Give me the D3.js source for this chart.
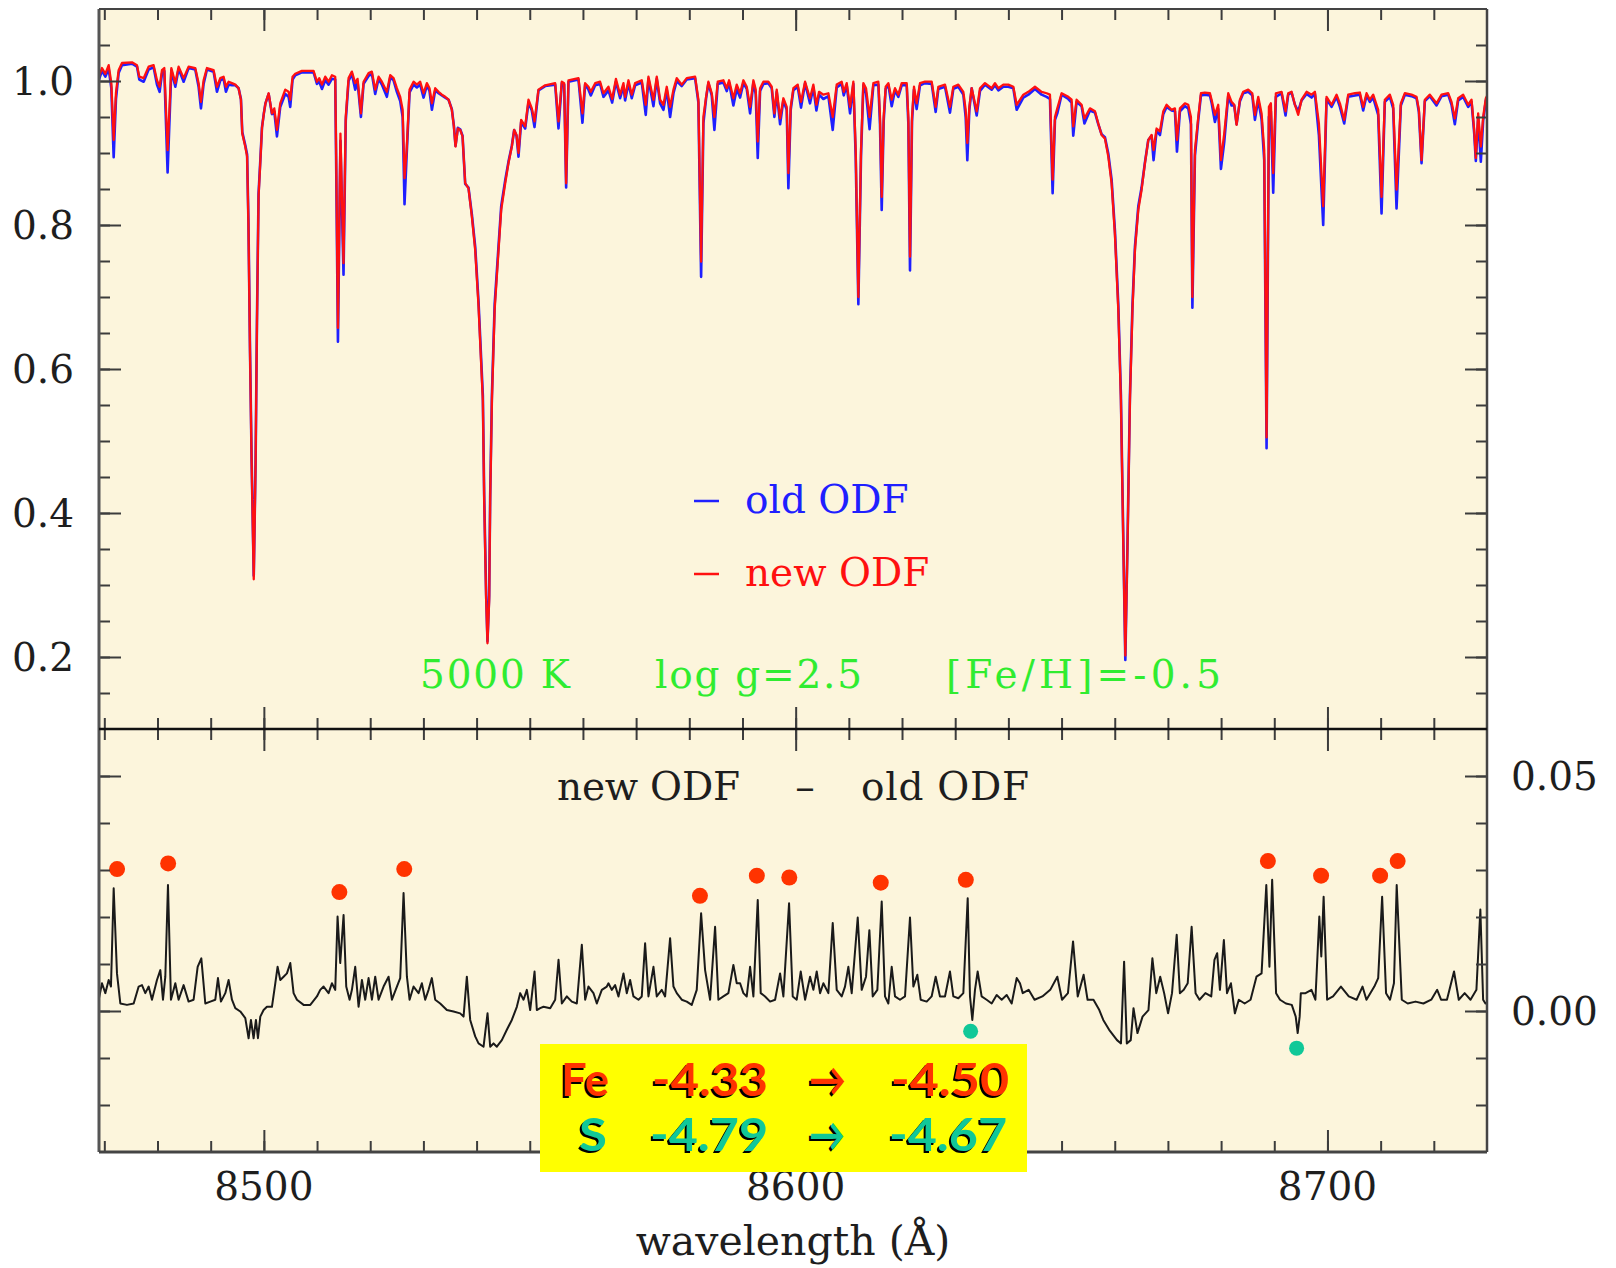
<!DOCTYPE html>
<html>
<head>
<meta charset="utf-8">
<script src="https://cdn.jsdelivr.net/npm/d3@7"></script>
<style>
  html, body { margin: 0; padding: 0; background: #ffffff; }
  svg { display: block; }
</style>
</head>
<body>
<svg id="chart" width="1616" height="1268"></svg>
<script>
// Synthetic spectrum, 5000 K / log g = 2.5 / [Fe/H] = -0.5, Ca II triplet region.
// Rows: [wavelength (Å), normalised flux with new ODF, normalised flux with old ODF]
const spectrum = [
  [8468.90,1.004,1.000],[8469.56,1.018,1.014],[8470.19,1.010,1.006],[8470.82,1.022,1.017],[8471.32,0.997,0.990],
  [8471.76,0.918,0.894],[8472.19,0.983,0.975],[8472.69,1.015,1.011],[8473.32,1.025,1.022],[8475.20,1.026,1.024],
  [8476.14,1.022,1.020],[8476.58,1.006,1.002],[8477.40,1.004,0.999],[8478.33,1.020,1.016],[8479.27,1.022,1.019],
  [8479.90,1.001,0.995],[8480.40,0.992,0.985],[8480.84,1.015,1.010],[8481.28,1.018,1.014],[8481.90,0.904,0.873],
  [8482.60,1.018,1.015],[8483.35,0.997,0.992],[8483.97,1.020,1.017],[8484.91,1.004,0.999],[8485.85,1.020,1.018],
  [8487.10,1.018,1.016],[8487.73,0.997,0.992],[8488.17,0.971,0.962],[8488.67,1.001,0.996],[8489.30,1.018,1.016],
  [8490.55,1.015,1.013],[8491.18,0.992,0.985],[8491.81,1.004,1.001],[8492.43,1.006,1.003],[8492.87,0.992,0.985],
  [8493.37,0.999,0.995],[8494.00,0.997,0.994],[8494.63,0.995,0.994],[8495.25,0.990,0.990],[8495.69,0.974,0.975],
  [8495.94,0.927,0.929],[8496.50,0.909,0.911],[8496.85,0.895,0.898],[8497.10,0.800,0.805],[8497.40,0.620,0.625],
  [8497.70,0.470,0.474],[8498.10,0.308,0.313],[8498.45,0.470,0.475],[8498.70,0.660,0.665],[8499.00,0.840,0.843],
  [8499.35,0.890,0.892],[8499.65,0.935,0.936],[8500.00,0.955,0.955],[8500.30,0.969,0.969],[8500.90,0.983,0.982],
  [8501.52,0.955,0.954],[8501.96,0.962,0.958],[8502.46,0.932,0.923],[8503.08,0.969,0.964],[8504.02,0.988,0.982],
  [8504.65,0.985,0.978],[8504.96,0.974,0.964],[8505.40,1.006,1.002],[8505.90,1.010,1.008],[8507.16,1.014,1.012],
  [8509.35,1.014,1.012],[8509.98,0.999,0.996],[8510.42,1.004,0.999],[8510.92,0.995,0.989],[8511.54,1.006,1.001],
  [8512.17,0.999,0.995],[8512.80,1.008,1.003],[8513.42,1.006,1.002],[8513.62,0.880,0.870],[8513.93,0.657,0.638],
  [8514.40,0.927,0.917],[8514.98,0.747,0.731],[8515.40,0.950,0.945],[8515.93,1.004,1.000],[8516.55,1.013,1.010],
  [8517.18,0.997,0.988],[8517.62,1.003,0.999],[8518.25,0.955,0.950],[8518.75,0.999,0.996],[8519.69,1.011,1.007],
  [8520.31,1.013,1.010],[8520.94,0.988,0.982],[8521.57,1.006,1.003],[8522.19,0.999,0.995],[8523.13,0.985,0.978],
  [8523.76,1.008,1.005],[8524.39,1.004,1.001],[8525.01,0.990,0.985],[8525.64,0.978,0.972],[8526.10,0.960,0.950],
  [8526.45,0.865,0.829],[8526.85,0.904,0.897],[8527.40,0.988,0.984],[8528.15,0.999,0.995],[8528.77,0.995,0.991],
  [8529.40,0.999,0.995],[8530.03,0.983,0.977],[8530.65,0.997,0.994],[8531.15,0.990,0.986],[8531.60,0.969,0.960],
  [8532.22,0.990,0.987],[8532.85,0.985,0.983],[8533.47,0.981,0.980],[8534.10,0.978,0.977],[8534.73,0.974,0.974],
  [8535.35,0.960,0.961],[8535.73,0.937,0.938],[8536.04,0.909,0.910],[8536.48,0.934,0.935],[8536.92,0.932,0.933],
  [8537.36,0.923,0.924],[8537.86,0.858,0.857],[8538.48,0.851,0.852],[8539.11,0.812,0.815],[8539.74,0.765,0.770],
  [8540.37,0.687,0.693],[8541.18,0.556,0.563],[8541.43,0.418,0.425],[8541.80,0.279,0.286],[8542.05,0.219,0.222],
  [8542.37,0.279,0.286],[8542.56,0.418,0.425],[8542.88,0.556,0.563],[8543.40,0.683,0.690],[8544.13,0.765,0.771],
  [8544.63,0.821,0.826],[8545.38,0.858,0.862],[8546.00,0.886,0.888],[8546.63,0.909,0.910],[8547.07,0.932,0.932],
  [8547.51,0.925,0.924],[8547.88,0.900,0.895],[8548.38,0.946,0.943],[8549.14,0.937,0.934],[8549.76,0.974,0.970],
  [8550.39,0.962,0.959],[8550.89,0.944,0.936],[8551.64,0.988,0.987],[8552.90,0.994,0.993],[8554.78,0.997,0.995],
  [8555.40,0.944,0.934],[8556.03,0.999,0.997],[8556.47,0.997,0.995],[8556.84,0.858,0.852],[8557.28,1.001,0.999],
  [8559.16,1.004,1.002],[8559.91,0.955,0.942],[8560.41,0.997,0.995],[8561.04,0.992,0.988],[8561.48,0.985,0.980],
  [8562.30,0.997,0.994],[8563.23,0.999,0.996],[8563.86,0.983,0.978],[8564.80,0.992,0.987],[8565.50,0.975,0.970],
  [8566.20,1.003,0.999],[8566.99,0.981,0.976],[8567.62,0.997,0.993],[8567.93,0.978,0.973],[8568.56,1.001,0.997],
  [8569.18,0.981,0.976],[8569.81,0.997,0.994],[8571.06,1.001,0.998],[8571.81,0.967,0.953],[8572.32,1.006,1.003],
  [8573.26,0.974,0.965],[8573.88,1.006,1.003],[8574.51,0.974,0.969],[8575.14,0.967,0.960],[8575.76,0.992,0.988],
  [8576.39,0.964,0.950],[8577.02,0.988,0.983],[8577.64,1.004,1.000],[8578.58,0.995,0.993],[8579.52,1.004,1.002],
  [8581.09,1.006,1.004],[8581.71,0.974,0.970],[8582.22,0.749,0.728],[8582.65,0.950,0.941],[8583.16,0.978,0.976],
  [8583.59,0.999,0.997],[8584.22,0.983,0.980],[8584.72,0.950,0.932],[8585.35,0.999,0.996],[8586.41,1.001,0.998],
  [8587.04,0.990,0.986],[8587.48,1.001,0.998],[8588.29,0.976,0.966],[8588.92,0.995,0.989],[8589.55,0.983,0.977],
  [8590.17,1.001,0.997],[8590.80,0.992,0.989],[8591.43,0.964,0.955],[8592.05,1.001,0.998],[8592.49,0.988,0.982],
  [8592.87,0.916,0.893],[8593.31,0.990,0.986],[8593.93,0.999,0.996],[8594.87,0.999,0.997],[8595.50,0.992,0.990],
  [8596.00,0.955,0.950],[8596.44,0.988,0.985],[8597.07,0.948,0.940],[8597.69,0.976,0.973],[8598.32,0.964,0.960],
  [8598.63,0.872,0.851],[8599.07,0.964,0.960],[8599.57,0.990,0.987],[8600.39,0.995,0.992],[8601.01,0.971,0.963],
  [8601.77,0.999,0.997],[8602.70,0.976,0.969],[8603.33,0.995,0.991],[8603.90,0.967,0.959],[8604.40,0.985,0.981],
  [8605.21,0.981,0.975],[8606.15,0.983,0.979],[8606.97,0.950,0.932],[8607.72,0.995,0.991],[8608.66,0.999,0.996],
  [8609.04,0.985,0.980],[8609.60,0.997,0.994],[8610.23,0.964,0.955],[8610.85,0.999,0.996],[8611.29,0.904,0.895],
  [8611.79,0.700,0.690],[8612.29,0.904,0.896],[8612.73,0.997,0.994],[8613.23,0.990,0.983],[8613.90,0.950,0.933],
  [8614.61,0.997,0.994],[8615.55,0.999,0.995],[8615.86,0.950,0.940],[8616.18,0.839,0.821],[8616.55,0.950,0.944],
  [8616.93,0.992,0.989],[8617.43,0.997,0.995],[8618.06,0.974,0.965],[8618.68,0.990,0.987],[8619.31,0.981,0.978],
  [8619.94,0.997,0.994],[8620.88,0.997,0.994],[8621.19,0.950,0.941],[8621.50,0.756,0.737],[8621.88,0.950,0.944],
  [8622.25,0.992,0.988],[8622.75,0.969,0.961],[8623.38,0.997,0.994],[8624.32,0.999,0.997],[8625.58,0.999,0.996],
  [8626.33,0.964,0.957],[8626.83,0.992,0.989],[8628.08,0.995,0.992],[8629.02,0.964,0.956],[8629.65,0.992,0.989],
  [8630.59,0.995,0.992],[8631.53,0.985,0.981],[8631.97,0.960,0.950],[8632.28,0.914,0.890],[8632.66,0.964,0.960],
  [8633.10,0.990,0.990],[8634.04,0.958,0.952],[8634.66,0.990,0.986],[8635.60,0.997,0.995],[8636.86,0.990,0.988],
  [8637.48,0.997,0.994],[8638.11,0.990,0.987],[8639.05,0.995,0.992],[8639.99,0.995,0.992],[8640.93,0.992,0.990],
  [8641.56,0.967,0.960],[8642.81,0.981,0.977],[8643.75,0.985,0.981],[8645.00,0.992,0.989],[8646.25,0.985,0.981],
  [8647.19,0.983,0.978],[8647.82,0.981,0.975],[8648.32,0.863,0.844],[8648.76,0.950,0.946],[8649.20,0.962,0.955],
  [8650.01,0.983,0.981],[8651.27,0.978,0.975],[8651.89,0.974,0.970],[8652.20,0.937,0.924],[8652.83,0.974,0.971],
  [8653.77,0.967,0.965],[8654.30,0.948,0.941],[8655.34,0.962,0.959],[8656.28,0.958,0.956],[8656.90,0.941,0.940],
  [8657.53,0.925,0.926],[8658.16,0.920,0.922],[8658.79,0.895,0.899],[8659.41,0.858,0.863],[8660.04,0.786,0.792],
  [8660.67,0.682,0.689],[8661.16,0.557,0.564],[8661.63,0.349,0.354],[8661.99,0.202,0.196],[8662.39,0.349,0.355],
  [8662.86,0.557,0.564],[8663.33,0.682,0.688],[8663.80,0.765,0.770],[8664.43,0.821,0.826],[8665.05,0.849,0.852],
  [8665.68,0.886,0.887],[8666.31,0.918,0.918],[8666.93,0.925,0.924],[8667.30,0.904,0.890],[8667.87,0.934,0.931],
  [8668.50,0.930,0.925],[8669.13,0.958,0.954],[8669.75,0.967,0.964],[8670.69,0.960,0.959],[8671.32,0.962,0.958],
  [8671.70,0.918,0.902],[8672.26,0.962,0.958],[8673.20,0.969,0.965],[8673.82,0.967,0.962],[8674.33,0.950,0.940],
  [8674.60,0.700,0.685],[8675.08,0.904,0.896],[8675.71,0.950,0.946],[8676.21,0.983,0.980],[8676.96,0.984,0.981],
  [8677.90,0.983,0.980],[8678.21,0.974,0.970],[8678.84,0.953,0.943],[8679.46,0.967,0.961],[8679.97,0.890,0.878],
  [8680.59,0.927,0.915],[8681.34,0.983,0.979],[8681.97,0.971,0.966],[8682.47,0.967,0.966],[8682.91,0.939,0.940],
  [8683.54,0.974,0.972],[8684.16,0.985,0.983],[8685.10,0.988,0.985],[8685.86,0.983,0.980],[8686.36,0.953,0.946],
  [8686.98,0.978,0.974],[8687.61,0.955,0.947],[8688.11,0.904,0.890],[8688.55,0.505,0.490],[8688.99,0.964,0.950],
  [8689.36,0.969,0.958],[8689.80,0.872,0.845],[8690.30,0.983,0.978],[8691.37,0.985,0.983],[8692.12,0.958,0.952],
  [8692.62,0.983,0.981],[8693.25,0.985,0.984],[8693.88,0.967,0.967],[8694.50,0.953,0.958],[8695.13,0.974,0.973],
  [8696.07,0.985,0.982],[8697.01,0.981,0.977],[8697.64,0.985,0.982],[8698.39,0.941,0.925],[8699.20,0.826,0.800],
  [8699.83,0.978,0.975],[8700.77,0.967,0.964],[8701.71,0.981,0.978],[8702.34,0.969,0.964],[8703.15,0.946,0.941],
  [8703.90,0.981,0.978],[8705.16,0.983,0.980],[8706.09,0.984,0.981],[8706.72,0.964,0.959],[8707.35,0.983,0.980],
  [8707.97,0.974,0.971],[8708.60,0.981,0.977],[8709.54,0.960,0.953],[8710.17,0.839,0.816],[8710.79,0.974,0.971],
  [8711.73,0.981,0.978],[8712.36,0.967,0.962],[8712.99,0.849,0.823],[8713.80,0.969,0.966],[8714.55,0.983,0.981],
  [8715.81,0.981,0.979],[8716.75,0.978,0.976],[8717.19,0.960,0.957],[8717.69,0.890,0.886],[8718.31,0.974,0.972],
  [8719.25,0.981,0.979],[8720.51,0.969,0.966],[8721.45,0.981,0.979],[8722.70,0.983,0.981],[8723.33,0.971,0.967],
  [8723.95,0.948,0.940],[8724.58,0.976,0.973],[8725.52,0.981,0.978],[8726.46,0.967,0.964],[8727.09,0.974,0.971],
  [8727.59,0.932,0.928],[8727.90,0.893,0.889],[8728.34,0.955,0.950],[8728.84,0.909,0.888],[8729.28,0.950,0.945],
  [8729.78,0.976,0.973],[8730.20,0.982,0.979]
];

// Rows: [wavelength (Å), flux(new ODF) - flux(old ODF)]
const difference = [
  [8468.94,0.0024],[8469.56,0.0059],[8470.19,0.0038],[8470.82,0.0066],[8471.25,0.0052],[8471.76,0.0261],[8472.38,0.0080],
  [8473.01,0.0016],[8474.26,0.0013],[8475.52,0.0016],[8476.46,0.0052],[8477.08,0.0055],[8477.71,0.0038],[8478.34,0.0052],
  [8478.96,0.0024],[8479.90,0.0066],[8480.53,0.0087],[8481.03,0.0024],[8481.47,0.0073],[8481.97,0.0268],[8482.53,0.0024],
  [8483.35,0.0059],[8483.97,0.0024],[8484.91,0.0055],[8485.85,0.0020],[8486.79,0.0024],[8487.55,0.0094],[8488.24,0.0112],
  [8488.99,0.0016],[8489.93,0.0020],[8490.87,0.0024],[8491.37,0.0070],[8491.93,0.0020],[8492.75,0.0038],[8493.37,0.0066],
  [8494.00,0.0024],[8494.63,0.0006],[8495.57,-0.0001],[8496.51,-0.0015],[8497.13,-0.0058],[8497.57,-0.0019],[8498.07,-0.0058],
  [8498.51,-0.0019],[8498.89,-0.0058],[8499.33,-0.0012],[8499.95,0.0002],[8500.58,0.0009],[8501.52,0.0009],[8502.15,0.0059],
  [8502.58,0.0094],[8503.09,0.0066],[8503.71,0.0073],[8504.34,0.0080],[8504.97,0.0102],[8505.59,0.0038],[8506.22,0.0024],
  [8507.47,0.0013],[8508.73,0.0013],[8509.98,0.0031],[8510.60,0.0045],[8511.23,0.0052],[8512.17,0.0038],[8512.80,0.0059],
  [8513.42,0.0045],[8513.86,0.0201],[8514.36,0.0102],[8514.99,0.0204],[8515.49,0.0052],[8516.12,0.0024],[8516.56,0.0045],
  [8517.18,0.0094],[8517.81,0.0009],[8518.44,0.0066],[8519.06,0.0024],[8519.69,0.0070],[8520.32,0.0024],[8520.94,0.0073],
  [8521.57,0.0024],[8522.51,0.0052],[8523.45,0.0073],[8524.08,0.0024],[8525.02,0.0052],[8525.64,0.0070],[8526.27,0.0251],
  [8526.90,0.0073],[8527.40,0.0024],[8528.15,0.0052],[8529.09,0.0038],[8529.71,0.0059],[8530.34,0.0024],[8530.97,0.0045],
  [8531.59,0.0070],[8532.22,0.0024],[8533.16,0.0016],[8534.41,0.0002],[8535.67,-0.0001],[8536.92,-0.0005],[8537.55,-0.0012],
  [8538.17,0.0073],[8538.80,-0.0019],[8539.74,-0.0054],[8540.37,-0.0069],[8541.31,-0.0076],[8542.06,-0.0005],[8542.56,-0.0076],
  [8543.19,-0.0069],[8543.81,-0.0076],[8544.75,-0.0062],[8545.69,-0.0040],[8546.63,-0.0019],[8547.57,0.0009],[8548.20,0.0038],
  [8548.83,0.0024],[8549.45,0.0045],[8550.08,0.0002],[8550.90,0.0084],[8551.33,0.0002],[8551.96,0.0006],[8552.59,0.0009],
  [8553.84,0.0006],[8554.78,0.0024],[8555.41,0.0109],[8556.03,0.0016],[8556.97,0.0031],[8557.91,0.0020],[8558.85,0.0016],
  [8559.79,0.0141],[8560.42,0.0024],[8561.04,0.0052],[8561.98,0.0038],[8562.61,0.0016],[8563.55,0.0045],[8564.49,0.0052],
  [8564.80,0.0059],[8565.42,0.0045],[8566.05,0.0055],[8566.68,0.0031],[8567.62,0.0080],[8568.24,0.0038],[8568.87,0.0066],
  [8569.50,0.0031],[8570.44,0.0024],[8571.06,0.0031],[8571.69,0.0144],[8572.32,0.0031],[8573.26,0.0094],[8573.88,0.0031],
  [8574.82,0.0045],[8575.45,0.0031],[8576.39,0.0155],[8577.02,0.0052],[8577.64,0.0038],[8578.58,0.0024],[8579.52,0.0020],
  [8580.46,0.0013],[8581.40,0.0045],[8582.22,0.0208],[8582.97,0.0087],[8583.91,0.0024],[8584.85,0.0179],[8585.47,0.0024],
  [8586.41,0.0031],[8587.35,0.0038],[8588.29,0.0098],[8588.92,0.0059],[8589.55,0.0059],[8590.17,0.0038],[8590.80,0.0031],
  [8591.43,0.0094],[8592.05,0.0031],[8592.87,0.0236],[8593.43,0.0038],[8594.25,0.0031],[8595.19,0.0020],[8596.13,0.0024],
  [8597.07,0.0080],[8597.69,0.0031],[8598.76,0.0229],[8599.45,0.0031],[8600.20,0.0024],[8600.95,0.0084],[8601.77,0.0024],
  [8602.71,0.0073],[8603.33,0.0045],[8603.96,0.0084],[8604.59,0.0038],[8605.21,0.0059],[8606.15,0.0038],[8606.97,0.0187],
  [8607.72,0.0045],[8608.66,0.0031],[8609.28,0.0052],[8609.91,0.0094],[8610.54,0.0038],[8611.67,0.0199],[8612.42,0.0045],
  [8613.23,0.0073],[8613.86,0.0172],[8614.49,0.0031],[8615.36,0.0045],[8616.18,0.0233],[8616.80,0.0031],[8617.43,0.0016],
  [8618.06,0.0094],[8618.68,0.0031],[8619.62,0.0024],[8620.56,0.0031],[8621.50,0.0199],[8622.13,0.0052],[8622.88,0.0077],
  [8623.51,0.0024],[8624.64,0.0020],[8625.57,0.0031],[8626.33,0.0073],[8627.14,0.0031],[8628.08,0.0031],[8629.02,0.0084],
  [8629.65,0.0031],[8630.59,0.0027],[8631.53,0.0038],[8632.35,0.0240],[8632.78,0.0031],[8633.22,-0.0019],[8633.72,0.0045],
  [8634.22,0.0084],[8634.97,0.0031],[8635.91,0.0024],[8636.86,0.0016],[8637.80,0.0034],[8638.74,0.0024],[8639.68,0.0034],
  [8640.62,0.0016],[8641.56,0.0070],[8642.18,0.0059],[8642.70,0.0038],[8643.81,0.0045],[8644.92,0.0024],[8646.39,0.0031],
  [8647.87,0.0045],[8649.20,0.0073],[8650.09,0.0024],[8651.20,0.0038],[8652.16,0.0148],[8653.04,0.0031],[8654.15,0.0077],
  [8654.89,0.0024],[8656.00,0.0024],[8657.10,0.0002],[8657.84,-0.0019],[8658.95,-0.0040],[8660.43,-0.0062],[8661.17,-0.0069],
  [8661.76,0.0105],[8662.27,-0.0069],[8663.01,-0.0062],[8663.53,0.0006],[8664.27,-0.0047],[8665.23,-0.0012],[8666.34,0.0002],
  [8667.08,0.0112],[8667.81,0.0038],[8668.55,0.0073],[8669.29,0.0038],[8670.03,-0.0005],[8670.77,0.0038],[8671.65,0.0162],
  [8672.25,0.0038],[8672.98,0.0045],[8673.72,0.0059],[8674.46,0.0179],[8675.20,0.0038],[8675.94,0.0024],[8677.05,0.0038],
  [8678.15,0.0031],[8678.75,0.0109],[8679.26,0.0123],[8679.78,0.0045],[8680.52,0.0151],[8681.11,0.0038],[8681.85,0.0059],
  [8682.59,-0.0005],[8683.33,0.0024],[8684.43,0.0016],[8685.54,0.0024],[8686.65,0.0073],[8687.61,0.0080],[8688.50,0.0268],
  [8689.09,0.0094],[8689.60,0.0279],[8690.34,0.0038],[8691.08,0.0024],[8692.19,0.0016],[8693.29,0.0013],[8694.03,-0.0012],
  [8694.40,-0.0047],[8694.77,-0.0012],[8694.99,0.0038],[8695.88,0.0038],[8696.99,0.0045],[8697.73,0.0024],[8698.47,0.0201],
  [8698.84,0.0116],[8699.28,0.0243],[8699.94,0.0024],[8701.05,0.0031],[8702.53,0.0052],[8704.01,0.0031],[8705.48,0.0024],
  [8706.59,0.0052],[8707.33,0.0024],[8708.81,0.0052],[8709.54,0.0070],[8710.28,0.0243],[8711.02,0.0038],[8711.76,0.0024],
  [8712.50,0.0059],[8713.02,0.0268],[8713.98,0.0024],[8715.09,0.0016],[8716.56,0.0020],[8718.04,0.0016],[8719.52,0.0024],
  [8720.63,0.0045],[8721.36,0.0024],[8722.47,0.0024],[8723.80,0.0084],[8724.69,0.0024],[8725.80,0.0038],[8726.90,0.0024],
  [8728.01,0.0045],[8728.75,0.0216],[8729.27,0.0024],[8729.71,0.0016],[8730.20,0.0020]
];

// Lines that respond to the Fe abundance change (marked above the residual peaks)
const feMarkers = [
  [8472.4,0.0302],[8482.0,0.0314],[8514.2,0.0253],[8526.4,0.0302],[8582.0,0.0245],[8592.7,0.0288],[8598.8,0.0284],
  [8616.0,0.0273],[8632.0,0.0279],[8688.8,0.0319],[8698.8,0.0288],[8709.9,0.0288],[8713.2,0.0319]
];
// Lines that respond to the S abundance change (marked below the residual dips)
const sMarkers = [[8632.9,-0.0043],[8694.2,-0.0079]];

// Abundance changes between the two opacity distributions
const abundanceChanges = [
  { element: "Fe", before: -4.33, after: -4.50 },
  { element: "S",  before: -4.79, after: -4.67 }
];

// Model parameters
const teff = 5000, logg = 2.5, feh = -0.5;

// Axis domains and labelled ticks
const waveDomain = [8469, 8730];
const fluxDomain = [0.1, 1.1];
const diffDomain = [-0.03, 0.06];
const waveLabels = [8500, 8600, 8700];
const fluxLabels = [0.2, 0.4, 0.6, 0.8, 1.0];
const diffLabels = [0.00, 0.05];

// ---------------------------------------------------------------------------
const svg = d3.select("#chart");
const edgeL = 99, edgeR = 1487, edgeT = 9, edgeM = 729, edgeB = 1152;

const x = d3.scaleLinear().domain(waveDomain).range([edgeL, edgeR]);
const yTop = d3.scaleLinear().domain(fluxDomain).range([edgeM, edgeT]);
const yBot = d3.scaleLinear().domain(diffDomain).range([edgeB, edgeM]);

const paper = "#fcf5dc";
const axisColor = "#3c3c3c";
const serif = "'DejaVu Serif', 'Liberation Serif', serif";
const feColor = "#ff3300", sColor = "#10c898";

svg.append("rect").attr("x", edgeL).attr("y", edgeT)
  .attr("width", edgeR - edgeL).attr("height", edgeB - edgeT).attr("fill", paper);

const defs = svg.append("defs");
defs.append("clipPath").attr("id", "clip-top").append("rect")
  .attr("x", edgeL).attr("y", edgeT).attr("width", edgeR - edgeL).attr("height", edgeM - edgeT);
defs.append("clipPath").attr("id", "clip-bot").append("rect")
  .attr("x", edgeL).attr("y", edgeM).attr("width", edgeR - edgeL).attr("height", edgeB - edgeM);

// Upper panel: both spectra, old ODF underneath
const gTop = svg.append("g").attr("clip-path", "url(#clip-top)");
const oldLine = d3.line().x(d => x(d[0])).y(d => yTop(d[2]));
const newLine = d3.line().x(d => x(d[0])).y(d => yTop(d[1]));
gTop.append("path").datum(spectrum).attr("d", oldLine)
  .attr("fill", "none").attr("stroke", "#1f1fff").attr("stroke-width", 2.6).attr("stroke-linejoin", "round");
gTop.append("path").datum(spectrum).attr("d", newLine)
  .attr("fill", "none").attr("stroke", "#ff1010").attr("stroke-width", 2.3).attr("stroke-linejoin", "round");

// Lower panel: residual
const gBot = svg.append("g").attr("clip-path", "url(#clip-bot)");
const diffLine = d3.line().x(d => x(d[0])).y(d => yBot(d[1]));
gBot.append("path").datum(difference).attr("d", diffLine)
  .attr("fill", "none").attr("stroke", "#1a1a1a").attr("stroke-width", 2).attr("stroke-linejoin", "round");

gBot.selectAll("circle.fe").data(feMarkers).join("circle").attr("class", "fe")
  .attr("cx", d => x(d[0])).attr("cy", d => yBot(d[1])).attr("r", 8).attr("fill", feColor);
gBot.selectAll("circle.s").data(sMarkers).join("circle").attr("class", "s")
  .attr("cx", d => x(d[0])).attr("cy", d => yBot(d[1])).attr("r", 7.5).attr("fill", sColor);

// Tick rows along the wavelength axis
const waveMinor = x.ticks(26).filter(v => x(v) > edgeL + 1 && x(v) < edgeR - 1);
function waveTicks(y, downward, values, len) {
  const axis = (downward ? d3.axisBottom(x) : d3.axisTop(x)).tickValues(values).tickSize(len).tickFormat("");
  const g = svg.append("g").attr("transform", `translate(0,${y})`).call(axis);
  g.select(".domain").remove();
  g.selectAll(".tick line").attr("stroke", axisColor).attr("stroke-width", 2);
}
waveTicks(edgeT, true, waveMinor, 11);   waveTicks(edgeT, true, waveLabels, 22);
waveTicks(edgeM, false, waveMinor, 11);  waveTicks(edgeM, false, waveLabels, 22);
waveTicks(edgeM, true, waveMinor, 11);   waveTicks(edgeM, true, waveLabels, 22);
waveTicks(edgeB, false, waveMinor, 11);  waveTicks(edgeB, false, waveLabels, 22);

// Tick columns along the flux axes
function valueTicks(xpos, inwardRight, scale, values, len) {
  const axis = (inwardRight ? d3.axisRight(scale) : d3.axisLeft(scale)).tickValues(values).tickSize(len).tickFormat("");
  const g = svg.append("g").attr("transform", `translate(${xpos},0)`).call(axis);
  g.select(".domain").remove();
  g.selectAll(".tick line").attr("stroke", axisColor).attr("stroke-width", 2);
}
const fluxMinor = yTop.ticks(20).filter(v => yTop(v) > edgeT + 1 && yTop(v) < edgeM - 1);
const diffMinor = yBot.ticks(9).filter(v => yBot(v) > edgeM + 1 && yBot(v) < edgeB - 1);
valueTicks(edgeL, true, yTop, fluxMinor, 11);  valueTicks(edgeL, true, yTop, fluxLabels, 22);
valueTicks(edgeR, false, yTop, fluxMinor, 11); valueTicks(edgeR, false, yTop, fluxLabels, 22);
valueTicks(edgeL, true, yBot, diffMinor, 11);  valueTicks(edgeL, true, yBot, diffLabels, 22);
valueTicks(edgeR, false, yBot, diffMinor, 11); valueTicks(edgeR, false, yBot, diffLabels, 22);

// Frame
const frame = svg.append("g").attr("fill", "none");
frame.append("line").attr("x1", edgeL).attr("x2", edgeL).attr("y1", edgeT).attr("y2", edgeB).attr("stroke", "#555").attr("stroke-width", 3);
frame.append("line").attr("x1", edgeR).attr("x2", edgeR).attr("y1", edgeT).attr("y2", edgeB).attr("stroke", "#444").attr("stroke-width", 2.5);
frame.append("line").attr("x1", edgeL).attr("x2", edgeR).attr("y1", edgeT).attr("y2", edgeT).attr("stroke", "#444").attr("stroke-width", 2);
frame.append("line").attr("x1", edgeL).attr("x2", edgeR).attr("y1", edgeM).attr("y2", edgeM).attr("stroke", "#111").attr("stroke-width", 2.5);
frame.append("line").attr("x1", edgeL).attr("x2", edgeR).attr("y1", edgeB).attr("y2", edgeB).attr("stroke", "#444").attr("stroke-width", 3);

// Axis labels
const labels = svg.append("g").attr("font-family", serif).attr("fill", "#1e1e1e").attr("font-size", 39);
labels.selectAll("text.fl").data(fluxLabels).join("text").attr("class", "fl")
  .attr("x", 74).attr("y", d => yTop(d) + 14).attr("text-anchor", "end").text(d3.format(".1f"));
labels.selectAll("text.dl").data(diffLabels).join("text").attr("class", "dl")
  .attr("x", 1511).attr("y", d => yBot(d) + 14).attr("text-anchor", "start").text(d3.format(".2f"));
labels.selectAll("text.wl").data(waveLabels).join("text").attr("class", "wl")
  .attr("x", d => x(d)).attr("y", 1200).attr("text-anchor", "middle").text(d => String(d));
labels.append("text").attr("x", 793).attr("y", 1255).attr("text-anchor", "middle").attr("font-size", 41)
  .text("wavelength (Å)");

// Legend
const legend = svg.append("g").attr("font-family", serif).attr("font-size", 39);
[["old ODF", "#1f1fff", 513], ["new ODF", "#ff1010", 586]].forEach(([name, color, base]) => {
  legend.append("line").attr("x1", 694).attr("x2", 719).attr("y1", base - 12).attr("y2", base - 12)
    .attr("stroke", color).attr("stroke-width", 2.5);
  legend.append("text").attr("x", 745).attr("y", base).attr("fill", color).text(name);
});

// Model parameters
const green = "#30ec30";
const params = svg.append("g").attr("font-family", serif).attr("font-size", 39).attr("fill", green);
params.append("text").attr("x", 420).attr("y", 688).attr("textLength", 150).text(`${teff} K`);
params.append("text").attr("x", 655).attr("y", 688).attr("textLength", 207).text(`log g=${logg.toFixed(1)}`);
params.append("text").attr("x", 946).attr("y", 688).attr("textLength", 275).text(`[Fe/H]=${feh.toFixed(1)}`);

// Residual title
const title = svg.append("g").attr("font-family", serif).attr("font-size", 39).attr("fill", "#1e1e1e");
title.append("text").attr("x", 557).attr("y", 800).attr("textLength", 183).text("new ODF");
title.append("text").attr("x", 805).attr("y", 800).attr("text-anchor", "middle").text("–");
title.append("text").attr("x", 861).attr("y", 800).attr("textLength", 168).text("old ODF");

// Abundance box
const box = svg.append("g");
box.append("rect").attr("x", 540).attr("y", 1044).attr("width", 487).attr("height", 128).attr("fill", "#ffff00");
const boxFont = "'Comic Sans MS', 'Lato', 'Open Sans', sans-serif";
const rowBase = [1096, 1151];
const cols = [
  { key: d => d.element, xs: [561, 579], ws: [48, 28] },
  { key: d => d.before.toFixed(2), xs: [652, 650], ws: [116, 118] },
  { key: () => "→", xs: [809, 809], ws: [37, 36] },
  { key: d => d.after.toFixed(2), xs: [891, 889], ws: [118, 118] }
];
abundanceChanges.forEach((row, i) => {
  const color = i === 0 ? feColor : sColor;
  cols.forEach(c => {
    [["#000", -2, 2], [color, 0, 0]].forEach(([fill, dx, dy]) => {
      box.append("text")
        .attr("x", c.xs[i] + dx).attr("y", rowBase[i] + dy)
        .attr("font-family", boxFont).attr("font-weight", 700).attr("font-size", 46)
        .attr("textLength", c.ws[i]).attr("lengthAdjust", "spacingAndGlyphs")
        .attr("fill", fill).text(c.key(row));
    });
  });
});
</script>
</body>
</html>
